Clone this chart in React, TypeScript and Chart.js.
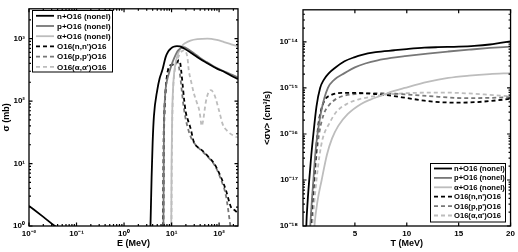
import React, { useEffect, useRef } from "react";
import { Chart, registerables } from "chart.js";
Chart.register(...registerables);

// ---------- Left panel: cross sections sigma(E) ----------
const eTicks = [0.01, 0.1, 1, 10, 100];
const sTicks = [1, 10, 100, 1000];

const E_nNonel = [0.01, 0.02, 0.035, 0.1, 0.5, 2.0, 3.4, 3.6, 3.8, 4.0, 4.25, 5.0, 5.6, 6.4, 7.5, 8.5, 9.6, 11, 13, 15, 18, 25, 35, 50, 67, 90, 127, 180, 250];
const S_nNonel = [2.1, 1.4, 1.0, 0.6, 0.3, 0.15, 0.1, 1.0, 6, 22, 57, 150, 230, 313, 505, 620, 690, 740, 760, 750, 700, 600, 505, 425, 375, 330, 295, 255, 225];

const E_pNonel = [5.0, 6.7, 6.9, 7.2, 7.6, 8.2, 8.8, 10, 11.5, 13.5, 15.6, 18, 22, 30, 40, 55, 75, 100, 140, 190, 250];
const S_pNonel = [0.1, 0.5, 30, 100, 170, 230, 277, 380, 500, 640, 700, 730, 680, 580, 490, 420, 365, 325, 290, 262, 238];

const E_aNonel = [8, 9.8, 10.0, 10.3, 10.7, 11.3, 12.5, 14, 17, 20, 25, 35, 57, 90, 127, 180, 250];
const S_aNonel = [0.1, 0.5, 10, 60, 150, 277, 450, 600, 780, 860, 930, 980, 1000, 950, 880, 810, 750];

const E_nn = [5, 6.6, 6.8, 7.0, 7.5, 8.2, 8.8, 10, 11.3, 13, 14.3, 15.2, 16, 17, 18.4, 20, 22, 25, 29.5, 35, 41, 57, 80, 110, 140, 178, 210, 250];
const S_nn = [0.1, 0.5, 20, 57, 150, 280, 350, 380, 390, 420, 450, 410, 300, 192, 105, 65, 50, 37, 22, 18.5, 17, 13.3, 9.8, 6, 3.7, 2.0, 1.8, 1.6];

const E_pp = [5, 6.7, 6.9, 7.1, 7.6, 8.3, 9.5, 11, 12.5, 13.5, 14.5, 15.5, 16.5, 18, 20, 23, 27, 32, 41, 57, 80, 110, 140, 165, 180];
const S_pp = [0.1, 0.5, 20, 60, 170, 300, 360, 390, 430, 420, 330, 220, 140, 80, 50, 33, 24, 20, 16.5, 13, 9.5, 5.5, 3.0, 1.3, 0.8];

const E_aa = [8, 9.9, 10.1, 10.5, 11, 12, 13.5, 15.6, 18, 21.5, 23, 26, 29.5, 34, 38, 40, 43, 46, 52, 58, 67, 80, 100, 120, 150, 200, 250];
const S_aa = [0.1, 0.5, 10, 80, 200, 350, 480, 600, 650, 505, 313, 200, 133, 95, 73, 58, 40, 48, 92, 130, 150, 125, 70, 42, 33, 28, 26];

// ---------- Right panel: reaction rates <sigma v>(T) ----------
const tTicks = [5, 10, 15, 20];
const rTicks = [1e-18, 1e-17, 1e-16, 1e-15, 1e-14];

const T_nNonel = [0.25, 0.32, 0.45, 0.6, 0.8, 1.0, 1.3, 1.65, 2.0, 2.5, 3.1, 4.0, 5.0, 5.6, 7.0, 8.8, 10, 11.7, 13, 15, 16.5, 18, 19, 20];
const R_nNonel = [2e-19, 1e-18, 3.5e-18, 1e-17, 3.5e-17, 1e-16, 4e-16, 1e-15, 1.5e-15, 2.1e-15, 2.75e-15, 3.8e-15, 4.7e-15, 5.2e-15, 6e-15, 6.6e-15, 7e-15, 7.5e-15, 7.7e-15, 7.9e-15, 8.2e-15, 8.8e-15, 9.5e-15, 1.03e-14];

const T_pNonel = [0.55, 0.7, 0.85, 1.0, 1.2, 1.4, 1.8, 2.4, 3.0, 4.0, 5.0, 6.0, 7.2, 8.5, 9.8, 12, 14, 16, 18, 20];
const R_pNonel = [2e-19, 1e-18, 3.5e-18, 1e-17, 4e-17, 1e-16, 3.5e-16, 1e-15, 1.5e-15, 2.1e-15, 2.8e-15, 3.4e-15, 4.0e-15, 4.5e-15, 4.9e-15, 5.6e-15, 6.2e-15, 6.8e-15, 7.4e-15, 7.9e-15];

const T_aNonel = [0.9, 1.1, 1.4, 1.8, 2.3, 2.8, 3.4, 4.3, 5.6, 6.5, 7.6, 8.7, 9.8, 12, 14, 16, 18, 20];
const R_aNonel = [2e-19, 1e-18, 3.5e-18, 1e-17, 3.5e-17, 8e-17, 1.5e-16, 2.7e-16, 4.5e-16, 5.6e-16, 6.9e-16, 8.5e-16, 1e-15, 1.35e-15, 1.65e-15, 1.85e-15, 2.0e-15, 2.1e-15];

const T_nn = [0.6, 0.75, 0.9, 1.05, 1.25, 1.45, 1.7, 2.1, 2.7, 3.7, 5.0, 6.9, 8.5, 10.1, 11.7, 13.3, 15, 16.5, 18, 20];
const R_nn = [2e-19, 1e-18, 3.5e-18, 1e-17, 4e-17, 1.4e-16, 3e-16, 5.5e-16, 7e-16, 7.8e-16, 7.8e-16, 7.4e-16, 6.8e-16, 6.0e-16, 5.3e-16, 4.9e-16, 4.8e-16, 4.9e-16, 5.2e-16, 5.8e-16];

const T_pp = [0.65, 0.8, 0.95, 1.1, 1.3, 1.55, 2.0, 2.5, 3.2, 4.0, 5.0, 7.0, 9.3, 12, 15.7, 18, 20];
const R_pp = [2e-19, 1e-18, 3.5e-18, 1e-17, 3.5e-17, 1e-16, 2.7e-16, 4.2e-16, 5.8e-16, 6.8e-16, 7.4e-16, 7.7e-16, 7.4e-16, 6.7e-16, 6.0e-16, 6.1e-16, 6.3e-16];

const T_aa = [0.75, 0.9, 1.1, 1.3, 1.6, 1.9, 2.6, 3.2, 4.3, 5.3, 6.3, 8, 10, 12, 14, 16, 18, 20];
const R_aa = [2e-19, 1e-18, 3.5e-18, 1e-17, 3.5e-17, 8e-17, 1.8e-16, 3e-16, 4.6e-16, 5.6e-16, 6.3e-16, 7.2e-16, 7.7e-16, 7.9e-16, 7.9e-16, 7.6e-16, 7.1e-16, 6.6e-16];

const labels = [
  "n+O16 (nonel)",
  "p+O16 (nonel)",
  "\u03b1+O16 (nonel)",
  "O16(n,n')O16",
  "O16(p,p')O16",
  "O16(\u03b1,\u03b1')O16",
];

const BLACK = "#000000";
const DGRAY = "#777777";
const LGRAY = "#bdbdbd";
const colors = [BLACK, DGRAY, LGRAY, BLACK, DGRAY, LGRAY];
const DASH = [4, 3];

const FONT = "'Liberation Sans', Arial, Helvetica, sans-serif";

const supMap: Record<string, string> = {
  "-": "\u207b", "0": "\u2070", "1": "\u00b9", "2": "\u00b2", "3": "\u00b3",
  "4": "\u2074", "5": "\u2075", "6": "\u2076", "7": "\u2077", "8": "\u2078", "9": "\u2079",
};
const powLabel = (v: number) =>
  "10" + String(Math.round(Math.log10(v))).split("").map((c) => supMap[c] ?? c).join("");

const zip = (xs: number[], ys: number[]) => xs.map((x, i) => ({ x, y: ys[i] }));

function makeDatasets(pairs: [number[], number[]][]) {
  return pairs.map(([xs, ys], i) => ({
    label: labels[i],
    data: zip(xs, ys),
    borderColor: colors[i],
    backgroundColor: colors[i],
    borderWidth: 1.8,
    borderDash: i >= 3 ? DASH : [],
    pointRadius: 0,
    fill: false,
    cubicInterpolationMode: "monotone" as const,
  }));
}

function logMinors(min: number, max: number) {
  const out: number[] = [];
  for (let d = Math.floor(Math.log10(min)); d <= Math.ceil(Math.log10(max)); d++) {
    for (let k = 2; k <= 9; k++) {
      const v = k * Math.pow(10, d);
      if (v > min && v < max) out.push(v);
    }
  }
  return out;
}

const framePlugin = {
  id: "frame",
  afterDatasetsDraw(chart: any, _args: any, opts: any) {
    const { ctx, chartArea } = chart;
    const { left, right, top, bottom } = chartArea;
    const xs = chart.scales.x;
    const ys = chart.scales.y;
    ctx.save();
    ctx.strokeStyle = "#000";
    ctx.lineWidth = 1.2;
    ctx.setLineDash([]);
    ctx.beginPath();
    const drawX = (v: number, len: number) => {
      const p = xs.getPixelForValue(v);
      ctx.moveTo(p, bottom);
      ctx.lineTo(p, bottom - len);
      ctx.moveTo(p, top);
      ctx.lineTo(p, top + len);
    };
    const drawY = (v: number, len: number) => {
      const p = ys.getPixelForValue(v);
      ctx.moveTo(left, p);
      ctx.lineTo(left + len, p);
      ctx.moveTo(right, p);
      ctx.lineTo(right - len, p);
    };
    (opts.xMajor || []).forEach((v: number) => drawX(v, 3.5));
    (opts.xMinor || []).forEach((v: number) => drawX(v, 2));
    (opts.yMajor || []).forEach((v: number) => drawY(v, 3.5));
    (opts.yMinor || []).forEach((v: number) => drawY(v, 2));
    ctx.stroke();
    ctx.lineWidth = 1.3;
    ctx.strokeRect(left, top, right - left, bottom - top);
    ctx.restore();
  },
};

const boxLegendPlugin = {
  id: "boxLegend",
  afterDraw(chart: any, _args: any, opts: any) {
    const { ctx } = chart;
    const { x, y, w, h, first, row, sample, gap, size } = opts;
    ctx.save();
    ctx.fillStyle = "#fff";
    ctx.fillRect(x, y, w, h);
    ctx.strokeStyle = "#000";
    ctx.lineWidth = 1;
    ctx.setLineDash([]);
    ctx.strokeRect(x + 0.5, y + 0.5, w, h);
    chart.data.datasets.forEach((ds: any, i: number) => {
      const cy = y + first + i * row;
      ctx.beginPath();
      ctx.setLineDash(ds.borderDash || []);
      ctx.strokeStyle = ds.borderColor;
      ctx.lineWidth = ds.borderWidth;
      ctx.moveTo(x + 4, cy);
      ctx.lineTo(x + 4 + sample, cy);
      ctx.stroke();
      ctx.setLineDash([]);
      ctx.fillStyle = "#000";
      ctx.font = `bold ${size}px ${FONT}`;
      ctx.textBaseline = "middle";
      ctx.textAlign = "left";
      ctx.fillText(ds.label, x + 4 + sample + gap, cy + 0.5);
    });
    ctx.restore();
  },
};

const tickFont = { family: FONT, size: 8, weight: "bold" as const };
const titleFont = { family: FONT, size: 9, weight: "bold" as const };

function leftConfig(): any {
  return {
    type: "line",
    data: {
      datasets: makeDatasets([
        [E_nNonel, S_nNonel],
        [E_pNonel, S_pNonel],
        [E_aNonel, S_aNonel],
        [E_nn, S_nn],
        [E_pp, S_pp],
        [E_aa, S_aa],
      ]),
    },
    options: {
      animation: false,
      responsive: false,
      parsing: true,
      layout: { padding: { left: 0, right: 21, top: 7, bottom: 0 } },
      plugins: {
        legend: { display: false },
        tooltip: { enabled: false },
        frame: { xMajor: eTicks, xMinor: logMinors(0.01, 250), yMajor: sTicks, yMinor: logMinors(1, 3000) },
        boxLegend: { x: 32, y: 10, w: 80, h: 61.5, first: 5.8, row: 10.2, sample: 18, gap: 3, size: 8 },
      },
      scales: {
        x: {
          type: "logarithmic",
          min: 0.01,
          max: 250,
          grid: { display: false, drawTicks: false },
          border: { display: false },
          afterBuildTicks: (s: any) => { s.ticks = eTicks.map((v) => ({ value: v, major: true })); },
          afterFit: (s: any) => { s.height = 26; },
          ticks: { autoSkip: false, maxRotation: 0, padding: 3, color: "#000", font: tickFont, callback: (v: any) => powLabel(Number(v)) },
          title: { display: true, text: "E (MeV)", color: "#000", font: titleFont, padding: { top: 0, bottom: 2.6 } },
        },
        y: {
          type: "logarithmic",
          min: 1,
          max: 3000,
          grid: { display: false, drawTicks: false },
          border: { display: false },
          afterBuildTicks: (s: any) => { s.ticks = sTicks.map((v) => ({ value: v, major: true })); },
          afterFit: (s: any) => { s.width = 29; },
          ticks: { autoSkip: false, padding: 4, color: "#000", font: tickFont, callback: (v: any) => powLabel(Number(v)) },
          title: { display: true, text: "\u03c3 (mb)", color: "#000", font: titleFont, padding: { top: 0.8, bottom: 0 } },
        },
      },
    },
    plugins: [framePlugin, boxLegendPlugin],
  };
}

function rightConfig(): any {
  return {
    type: "line",
    data: {
      datasets: makeDatasets([
        [T_nNonel, R_nNonel],
        [T_pNonel, R_pNonel],
        [T_aNonel, R_aNonel],
        [T_nn, R_nn],
        [T_pp, R_pp],
        [T_aa, R_aa],
      ]),
    },
    options: {
      animation: false,
      responsive: false,
      layout: { padding: { left: 0, right: 7, top: 7, bottom: 0 } },
      plugins: {
        legend: { display: false },
        tooltip: { enabled: false },
        frame: { xMajor: tTicks, xMinor: [], yMajor: rTicks, yMinor: logMinors(1e-18, 5e-14) },
        boxLegend: { x: 171, y: 163, w: 75, h: 58.5, first: 5.5, row: 9.4, sample: 18, gap: 2, size: 7.6 },
      },
      scales: {
        x: {
          type: "linear",
          min: 0,
          max: 20,
          grid: { display: false, drawTicks: false },
          border: { display: false },
          afterBuildTicks: (s: any) => { s.ticks = tTicks.map((v) => ({ value: v })); },
          afterFit: (s: any) => { s.height = 26; },
          ticks: { autoSkip: false, maxRotation: 0, padding: 3, color: "#000", font: tickFont, callback: (v: any) => String(v) },
          title: { display: true, text: "T (MeV)", color: "#000", font: titleFont, padding: { top: 0, bottom: 3.4 } },
        },
        y: {
          type: "logarithmic",
          min: 1e-18,
          max: 5e-14,
          grid: { display: false, drawTicks: false },
          border: { display: false },
          afterBuildTicks: (s: any) => { s.ticks = rTicks.map((v) => ({ value: v, major: true })); },
          afterFit: (s: any) => { s.width = 44; },
          ticks: { autoSkip: false, padding: 5, color: "#000", font: tickFont, callback: (v: any) => powLabel(Number(v)) },
          title: { display: true, text: "<\u03c3v> (cm\u00b3/s)", color: "#000", font: titleFont, padding: { top: 3.6, bottom: 0 } },
        },
      },
    },
    plugins: [framePlugin, boxLegendPlugin],
  };
}

export default function App() {
  const leftRef = useRef<HTMLCanvasElement | null>(null);
  const rightRef = useRef<HTMLCanvasElement | null>(null);

  useEffect(() => {
    document.body.style.margin = "0";
    document.body.style.background = "#ffffff";
    const c1 = new Chart(leftRef.current as HTMLCanvasElement, leftConfig());
    const c2 = new Chart(rightRef.current as HTMLCanvasElement, rightConfig());
    return () => {
      c1.destroy();
      c2.destroy();
    };
  }, []);

  return (
    <div style={{ position: "absolute", left: 0, top: 0, width: 518, height: 252, background: "#fff" }}>
      <canvas ref={leftRef} width={259} height={252} style={{ position: "absolute", left: 0, top: 0, width: 259, height: 252 }} />
      <canvas ref={rightRef} width={259} height={252} style={{ position: "absolute", left: 259, top: 0, width: 259, height: 252 }} />
    </div>
  );
}
